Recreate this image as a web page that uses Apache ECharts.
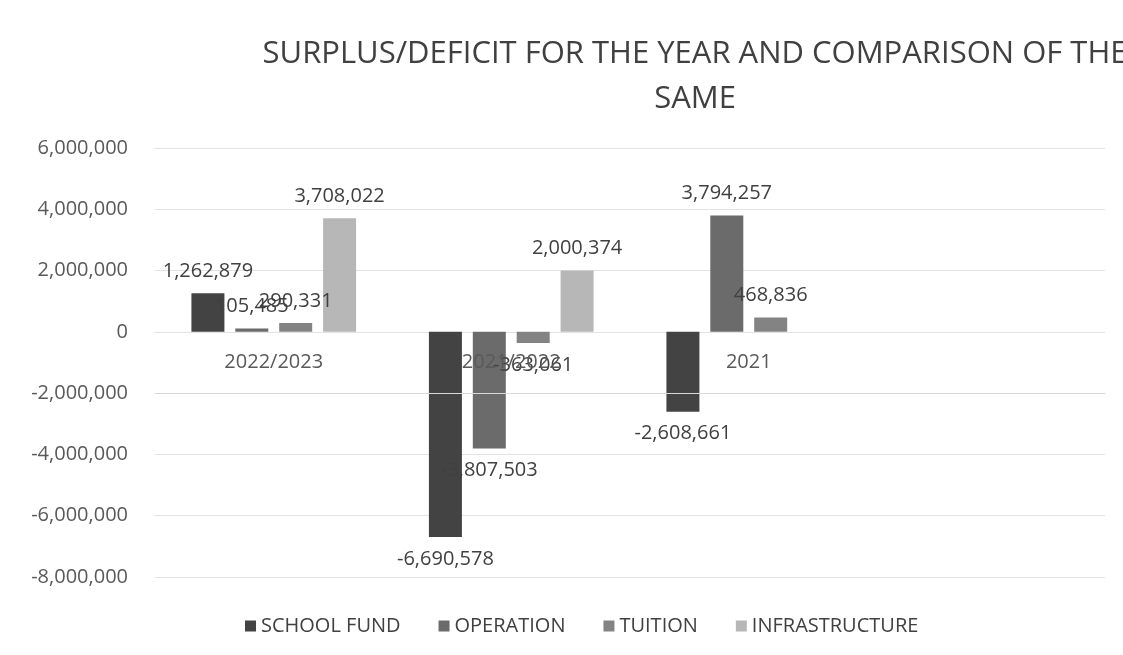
<!DOCTYPE html>
<html>
<head>
<meta charset="utf-8">
<script src="https://cdn.jsdelivr.net/npm/echarts@6/dist/echarts.min.js"></script>
<style>
  html, body { margin: 0; padding: 0; background: #fff; }
  #chart { width: 1123px; height: 655px; }
</style>
</head>
<body>
<div id="chart"></div>
<script>
var categories = ["2022/2023", "2021/2022", "2021", ""];
var schoolFund = [1262879, -6690578, -2608661, null];
var operation = [105485, -3807503, 3794257, null];
var tuition = [290331, -363061, 468836, null];
var infrastructure = [3708022, 2000374, null, null];

var seriesNames = ["SCHOOL FUND", "OPERATION", "TUITION", "INFRASTRUCTURE"];
var seriesColors = ["#434343", "#6b6b6b", "#838383", "#b7b7b7"];
var seriesValues = [schoolFund, operation, tuition, infrastructure];

var font = "'Open Sans', sans-serif";

function fmt(v) {
  return Number(v).toLocaleString("en-US");
}

// negative bars get their label under the bar end, like Excel's "outside end"
function toItems(values) {
  return values.map(function (v) {
    if (v === null) return "-";
    return {
      value: v,
      label: { position: v < 0 ? "bottom" : "top" },
    };
  });
}

var chart = echarts.init(document.getElementById("chart"));

var series = seriesNames.map(function (name, i) {
  return {
    name: name,
    type: "bar",
    barWidth: 33,
    barGap: "33%",
    itemStyle: { color: seriesColors[i] },
    label: {
      show: true,
      distance: 12,
      color: "#404040",
      fontFamily: font,
      fontSize: 20,
      formatter: function (p) {
        return fmt(p.value);
      },
    },
    data: toItems(seriesValues[i]),
  };
});

chart.setOption({
  animation: false,
  title: {
    text: "SURPLUS/DEFICIT FOR THE YEAR AND COMPARISON OF THE\nSAME",
    left: 690,
    textAlign: "center",
    top: 27,
    textStyle: {
      fontFamily: font,
      fontSize: 31,
      fontWeight: "normal",
      color: "#404040",
      lineHeight: 45,
    },
  },
  legend: {
    bottom: 14,
    left: 240,
    icon: "rect",
    itemWidth: 11,
    itemHeight: 11,
    itemGap: 38,
    textStyle: {
      fontFamily: font,
      fontSize: 20,
      color: "#404040",
    },
    data: seriesNames,
  },
  grid: {
    left: 155,
    right: 18,
    top: 148,
    bottom: 78,
  },
  xAxis: {
    type: "category",
    data: categories,
    position: "bottom",
    offset: -245,
    z: 10,
    axisTick: { show: false },
    axisLine: { lineStyle: { color: "#d9d9d9" } },
    axisLabel: {
      margin: 20,
      color: "#595959",
      fontFamily: font,
      fontSize: 20,
    },
  },
  yAxis: {
    type: "value",
    min: -8000000,
    max: 6000000,
    interval: 2000000,
    axisLine: { show: false },
    axisTick: { show: false },
    splitLine: { lineStyle: { color: "#e3e3e3" } },
    axisLabel: {
      margin: 27,
      color: "#595959",
      fontFamily: font,
      fontSize: 20,
      formatter: function (v) {
        return fmt(v);
      },
    },
  },
  series: series,
});
</script>
</body>
</html>
